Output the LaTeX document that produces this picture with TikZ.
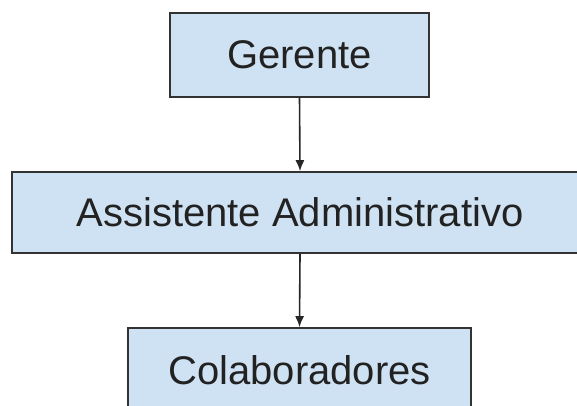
\documentclass[tikz,border=0pt]{standalone}
\usepackage{fontspec}
\setmainfont{Liberation Sans}
\usetikzlibrary{arrows.meta}
\definecolor{boxfill}{HTML}{CFE2F3}
\definecolor{boxline}{HTML}{333333}
\definecolor{txt}{HTML}{222222}
\tikzset{
  orgbox/.style={draw=boxline, line width=1.6pt, fill=boxfill, inner sep=0pt,
    text=txt, font=\fontsize{40}{48}\selectfont},
  conn/.style={draw=black!85, line width=1.6pt, -{Latex[length=11pt,width=9pt]}}
}
\begin{document}
\begin{tikzpicture}[x=1pt,y=-1pt]
\useasboundingbox (0,0) rectangle (577,405);
\clip (0,0) rectangle (577,405);
\node[orgbox, minimum width=259pt, minimum height=84pt] (g) at (299.5,55) {Gerente};
\node[orgbox, minimum width=576pt, minimum height=81pt] (a) at (300,212.5) {Assistente Administrativo};
\node[orgbox, minimum width=343pt, minimum height=84pt] (c) at (299.5,370) {Colaboradores};
\draw[conn] (g.south) -- (a.north);
\draw[conn] (a.south) -- (c.north);
\end{tikzpicture}
\end{document}
